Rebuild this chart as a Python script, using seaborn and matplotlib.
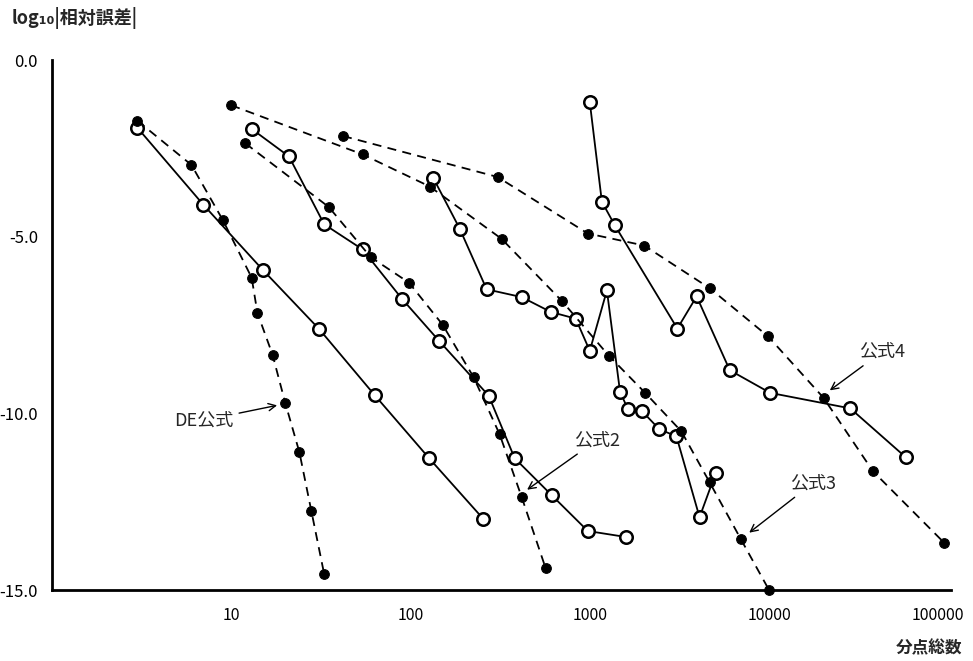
import numpy as np
import pandas as pd
import matplotlib
matplotlib.use("Agg")
import matplotlib.pyplot as plt
import matplotlib.transforms as mtransforms
import seaborn as sns

# ---------------- data ----------------
# DE formula (filled, dashed)
de_n = [3, 6, 9, 13, 14, 17, 20, 24, 28, 33]
de_err = [-1.72, -2.97, -4.54, -6.16, -7.16, -8.34, -9.70, -11.10, -12.77, -14.55]

# open circles, solid (left-most)
s1_n = [3, 7, 15, 31, 63, 127, 255]
s1_err = [-1.92, -4.10, -5.94, -7.62, -9.48, -11.27, -12.99]

# open circles, solid (pairs with formula 2)
s2_n = [13, 21, 33, 54, 90, 145, 273, 381, 614, 975, 1593]
s2_err = [-1.95, -2.73, -4.65, -5.36, -6.77, -7.96, -9.50, -11.27, -12.32, -13.33, -13.50]

# formula 2 (filled, dashed)
f2_n = [12, 35, 60, 98, 151, 225, 314, 417, 567]
f2_err = [-2.36, -4.16, -5.58, -6.30, -7.49, -8.98, -10.59, -12.37, -14.38]

# formula 3 (filled, dashed)
f3_n = [10, 54, 128, 322, 699, 1278, 2037, 3243, 4659, 6960, 10000]
f3_err = [-1.28, -2.67, -3.58, -5.06, -6.82, -8.37, -9.42, -10.51, -11.95, -13.56, -15.0]

# open circles, solid (pairs with formula 3)
s3_n = [134, 188, 266, 417, 606, 835, 1000, 1246, 1475, 1635, 1959, 2442, 3043, 4096, 5040]
s3_err = [-3.34, -4.77, -6.49, -6.71, -7.13, -7.32, -8.23, -6.52, -9.39, -9.89, -9.94,
          -10.45, -10.65, -12.94, -11.69]

# formula 4 (filled, dashed)
f4_n = [42, 306, 975, 2010, 4670, 9870, 20130, 38000, 95100]
f4_err = [-2.15, -3.31, -4.91, -5.25, -6.46, -7.82, -9.56, -11.64, -13.67]

# open circles, solid (pairs with formula 4)
s4_n = [1000, 1168, 1380, 3080, 3945, 6040, 10140, 28400, 57800]
s4_err = [-1.19, -4.01, -4.68, -7.60, -6.69, -8.78, -9.42, -9.86, -11.24]

x_ticks = [10, 100, 1000, 10000, 100000]
x_ticklabels = ["10", "100", "1000", "10000", "100000"]
y_ticks = [0.0, -5.0, -10.0, -15.0]
y_ticklabels = ["0.0", "-5.0", "-10.0", "-15.0"]

# ---------------- figure ----------------
sns.set_style("white")
plt.rcParams["font.family"] = ["Noto Sans CJK JP", "DejaVu Sans"]

fig = plt.figure(figsize=(9.73, 6.61), dpi=100)
ax = fig.add_axes([0.0534, 0.1074, 0.9236, 0.8018])

filled = dict(marker="o", markersize=7, markerfacecolor="black",
              markeredgecolor="black", color="black", linewidth=1.3,
              linestyle=(0, (5, 3.5)), clip_on=False)
hollow = dict(marker="o", markersize=9, markerfacecolor="white",
              markeredgecolor="black", markeredgewidth=1.8, color="black",
              linewidth=1.3, linestyle="-", clip_on=False)

series = [
    (s1_n, s1_err, hollow),
    (s2_n, s2_err, hollow),
    (s3_n, s3_err, hollow),
    (s4_n, s4_err, hollow),
    (de_n, de_err, filled),
    (f2_n, f2_err, filled),
    (f3_n, f3_err, filled),
    (f4_n, f4_err, filled),
]
for xs, ys, style in series:
    df = pd.DataFrame({"n": xs, "err": ys})
    sns.lineplot(data=df, x="n", y="err", ax=ax, sort=False,
                 estimator=None, **style)

ax.set_xscale("log")
ax.set_xlim(1, 1.03e5)
ax.set_ylim(-15, 0)
ax.set_xticks(x_ticks)
ax.set_xticklabels(x_ticklabels)
ax.xaxis.set_minor_locator(matplotlib.ticker.NullLocator())
ax.set_yticks(y_ticks)
ax.set_yticklabels(y_ticklabels)
ax.set_xlabel("")
ax.set_ylabel("")
ax.tick_params(axis="both", direction="inout", length=8, width=1.5,
               labelsize=12, colors="black", pad=6)
ax.tick_params(axis="x", labelsize=11.5, pad=8)
for side in ["top", "right"]:
    ax.spines[side].set_visible(False)
for side in ["left", "bottom"]:
    ax.spines[side].set_color("black")
    ax.spines[side].set_linewidth(2)

# keep the last x tick label inside the figure (slightly left of its tick)
last = ax.get_xticklabels()[-1]
last.set_transform(last.get_transform() +
                   mtransforms.ScaledTranslation(-0.1, 0, fig.dpi_scale_trans))

arrow = dict(arrowstyle="->", color="black", lw=1.0, shrinkA=2, shrinkB=3)
ax.annotate("DE公式", xy=(19, -9.75), xytext=(7.0, -10.2), ha="center",
            va="center", fontsize=13, arrowprops=arrow)
ax.annotate("公式2", xy=(428, -12.23), xytext=(1095, -10.76), ha="center",
            va="center", fontsize=13, arrowprops=arrow)
ax.annotate("公式3", xy=(7430, -13.45), xytext=(17500, -11.98), ha="center",
            va="center", fontsize=13, arrowprops=arrow)
ax.annotate("公式4", xy=(20900, -9.42), xytext=(42650, -8.26), ha="center",
            va="center", fontsize=13, arrowprops=arrow)

fig.text(12 / 973, 1 - 18 / 661, "log₁₀|相対誤差|", ha="left", va="center",
         fontsize=13, fontweight="bold")
fig.text(962 / 973, 1 - 648 / 661, "分点総数", ha="right", va="center",
         fontsize=12, fontweight="bold")

fig.savefig("out.png", dpi=100)
